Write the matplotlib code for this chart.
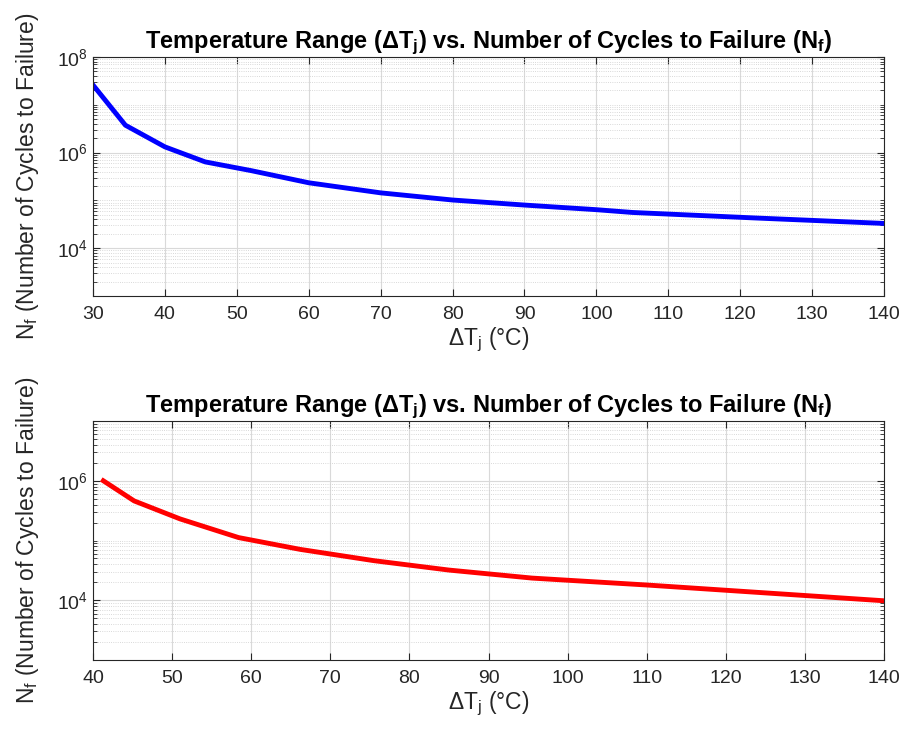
import numpy as np
import matplotlib
matplotlib.use('Agg')
import matplotlib.pyplot as plt
from matplotlib.ticker import FixedLocator, NullFormatter, LogFormatterMathtext

plt.rcParams['font.family'] = ['Liberation Sans', 'DejaVu Sans']
plt.rcParams['mathtext.fontset'] = 'custom'
plt.rcParams['mathtext.rm'] = 'Liberation Sans'
plt.rcParams['mathtext.it'] = 'Liberation Sans:italic'
plt.rcParams['mathtext.bf'] = 'Liberation Sans:bold'

# 数据
dT_top = [30, 34.5, 40, 45.6, 52, 60, 70, 80, 90, 100, 105, 122, 140]
Nf_top = [2.6e7, 3.75e6, 1.32e6, 6.4e5, 4.2e5, 2.34e5, 1.44e5, 1.02e5, 8.0e4, 6.4e4, 5.6e4, 4.3e4, 3.3e4]

dT_bot = [41.3, 45.2, 51, 58.4, 66.2, 75.5, 85, 95.5, 110, 120, 140]
Nf_bot = [1.0e6, 4.6e5, 2.3e5, 1.12e5, 7.1e4, 4.6e4, 3.2e4, 2.35e4, 1.8e4, 1.47e4, 9.8e3]

title = r'Temperature Range ($\mathbf{\Delta T_j}$) vs. Number of Cycles to Failure ($\mathbf{N_f}$)'
xlab = r'$\mathrm{\Delta T_j}$ (°C)'
ylab = r'$\mathrm{N_f}$ (Number of Cycles to Failure)'

fig = plt.figure(figsize=(9.04, 7.38), dpi=100)
ax1 = fig.add_axes([0.1029, 0.5989, 0.875, 0.3238])
ax2 = fig.add_axes([0.1029, 0.1057, 0.875, 0.3238])


def style(ax, xlim, ylim, xticks, majors):
    ax.set_yscale('log')
    ax.set_xlim(xlim)
    ax.set_ylim(ylim)
    ax.set_xticks(xticks)
    ax.yaxis.set_major_locator(FixedLocator(majors))
    ax.yaxis.set_major_formatter(LogFormatterMathtext())
    lo, hi = np.log10(ylim)
    minors = [k * 10.0 ** e for e in range(int(lo), int(hi)) for k in range(1, 10)
              if k * 10.0 ** e not in majors]
    ax.yaxis.set_minor_locator(FixedLocator(minors))
    ax.yaxis.set_minor_formatter(NullFormatter())
    ax.grid(True, which='major', color='0.85', linewidth=0.8, linestyle='-')
    ax.grid(True, which='minor', axis='y', color='0.8', linewidth=0.6, linestyle=':')
    ax.tick_params(which='both', direction='in', top=True, right=True,
                   colors='0.15', labelsize=14, labelcolor='0.15')
    ax.tick_params(which='major', length=5)
    ax.tick_params(axis='x', which='major', pad=7)
    ax.tick_params(which='minor', length=3)
    for s in ax.spines.values():
        s.set_color('0.15')
        s.set_linewidth(0.8)
    ax.set_axisbelow(True)
    ax.set_title(title, fontsize=17, fontweight='bold', pad=2)
    ax.set_xlabel(xlab, fontsize=16.5, color='0.15', labelpad=2)
    ax.set_ylabel(ylab, fontsize=16.5, color='0.15', labelpad=12)


ax1.plot(dT_top, Nf_top, color=(0, 0, 1), linewidth=3.5)
style(ax1, (30, 140), (1e3, 1e8), range(30, 141, 10), [1e4, 1e6, 1e8])

ax2.plot(dT_bot, Nf_bot, color=(1, 0, 0), linewidth=3.5)
style(ax2, (40, 140), (1e3, 1e7), range(40, 141, 10), [1e4, 1e6])

plt.savefig('out.png', dpi=100)
